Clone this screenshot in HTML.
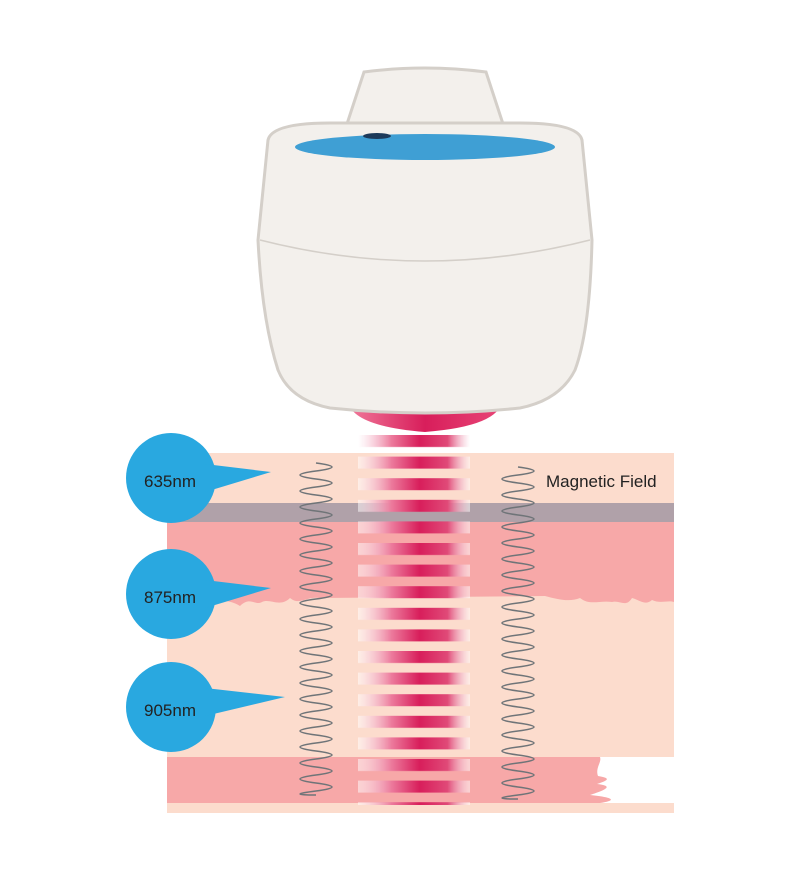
<!DOCTYPE html>
<html><head><meta charset="utf-8"><style>html,body{margin:0;padding:0;background:#fff}svg{display:block}</style></head>
<body>
<svg width="800" height="880" viewBox="0 0 800 880" xmlns="http://www.w3.org/2000/svg">
<defs>
<linearGradient id="sg" x1="358" x2="470" y1="0" y2="0" gradientUnits="userSpaceOnUse">
<stop offset="0" stop-color="#ffffff" stop-opacity="0.5"/>
<stop offset="0.3" stop-color="#ec7a9c"/>
<stop offset="0.55" stop-color="#d81e5b"/>
<stop offset="0.8" stop-color="#e04a78"/>
<stop offset="1" stop-color="#ffffff" stop-opacity="0.5"/>
</linearGradient>
<pattern id="stripes" x="0" y="435" width="800" height="21.6" patternUnits="userSpaceOnUse">
<rect x="358" y="0" width="112" height="12" fill="url(#sg)"/>
</pattern>
<linearGradient id="lens" x1="0" x2="1">
<stop offset="0" stop-color="#f07a9a"/><stop offset="0.5" stop-color="#d81e5b"/><stop offset="1" stop-color="#e84677"/>
</linearGradient>
</defs>
<rect x="167" y="453" width="507" height="360" fill="#fcdccd"/>
<rect x="167" y="503" width="507" height="19" fill="#b0a1a9"/>
<path d="M167,522 H674 V602 C668,600 660,604 652,600 C645,606 640,600 632,598 C626,608 620,600 612,602 C600,600 590,606 580,598 C570,602 560,600 545,596 L320,598 C305,596 300,606 290,598 C280,608 270,598 262,602 C255,606 250,596 240,606 C230,600 220,600 210,602 L167,600 Z" fill="#f7a8a8"/>
<path d="M167,757 H674 V803 H167 Z" fill="#f7a8a8"/>
<path d="M600,757 H674 V803 H600 C620,800 610,797 590,795 C605,790 615,786 597,784 C610,780 610,778 598,776 C595,768 602,762 600,757 Z" fill="#fff"/>
<rect x="167" y="803" width="507" height="10" fill="#fcdccd"/>
<path d="M348,400 Q425,412 502,400 Q500,426 425,432 Q350,426 348,400 Z" fill="url(#lens)"/>
<path d="M345,130 L364,72 Q425,64 486,72 L505,130 Z" fill="#f3f0ec" stroke="#d4cfc9" stroke-width="3"/>
<path d="M268,140 Q272,123 330,123 L520,123 Q578,123 582,140 L592,240 Q590,330 575,370 Q560,400 520,408 Q425,418 330,408 Q290,400 278,370 Q262,320 258,240 Z" fill="#f3f0ec" stroke="#d4cfc9" stroke-width="3"/>
<path d="M260,240 Q425,282 590,240" fill="none" stroke="#d4cfc9" stroke-width="1.5"/>
<ellipse cx="425" cy="147" rx="130" ry="13" fill="#3f9fd4"/>
<ellipse cx="377" cy="136" rx="14" ry="3" fill="#1d3a5a"/>
<rect x="358" y="435" width="112" height="370" fill="url(#stripes)"/>
<path id="sp" d="M316,463 Q348,467 316,471 T316,479 T316,487 T316,495 T316,503 T316,511 T316,519 T316,527 T316,535 T316,543 T316,551 T316,559 T316,567 T316,575 T316,583 T316,591 T316,599 T316,607 T316,615 T316,623 T316,631 T316,639 T316,647 T316,655 T316,663 T316,671 T316,679 T316,687 T316,695 T316,703 T316,711 T316,719 T316,727 T316,735 T316,743 T316,751 T316,759 T316,767 T316,775 T316,783 T316,791 T316,795" fill="none" stroke="#6f7478" stroke-width="1.5"/>
<use href="#sp" x="202" y="4"/>
<g fill="#29a8e0">
<circle cx="171" cy="478" r="45"/><path d="M205,464 L271,472 L205,492 Z"/>
<circle cx="171" cy="594" r="45"/><path d="M205,580 L271,588 L205,608 Z"/>
<circle cx="171" cy="707" r="45"/><path d="M205,688 L285,697 L205,716 Z"/>
</g>
<g font-family="Liberation Sans, sans-serif" font-size="17" fill="#222">
<text x="144" y="487">635nm</text>
<text x="144" y="603">875nm</text>
<text x="144" y="716">905nm</text>
<text x="546" y="487">Magnetic Field</text>
</g>
</svg>
</body></html>
